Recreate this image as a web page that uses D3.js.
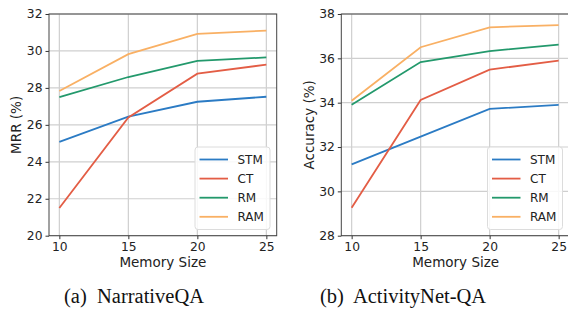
<!DOCTYPE html>
<html lang="en">
<head>
    <meta charset="UTF-8">
    <script src="https://d3js.org/d3.v7.min.js"></script>
    <title>Memory Size</title>
    <style>
        body { margin: 0; background: #fff; }
        svg { display: block; }
    </style>
</head>
<body>
    <div id="chart"></div>
    <script>
        // Data
        const memorySizes = [10, 15, 20, 25];
        const seriesNames = ["STM", "CT", "RM", "RAM"];
        const seriesColors = ["#2b7bc4", "#e35d45", "#23996c", "#f9b064"];

        const narrativeSTM = [25.08, 26.44, 27.25, 27.52];
        const narrativeCT = [21.5, 26.4, 28.77, 29.26];
        const narrativeRM = [27.5, 28.59, 29.46, 29.65];
        const narrativeRAM = [27.83, 29.83, 30.92, 31.1];

        const activitySTM = [31.22, 32.47, 33.72, 33.9];
        const activityCT = [29.26, 34.12, 35.49, 35.9];
        const activityRM = [33.91, 35.83, 36.33, 36.62];
        const activityRAM = [34.09, 36.5, 37.4, 37.5];

        const narrativeTicks = [20, 22, 24, 26, 28, 30, 32];
        const activityTicks = [28, 30, 32, 34, 36, 38];

        const width = 568;
        const height = 318;

        var svg = d3.select("#chart")
            .append("svg")
            .attr("width", width)
            .attr("height", height);

        const panels = [
            {
                left: 49, right: 276.7, ylabel: "MRR (%)", ylabelX: 16,
                domain: [20, 32], ticks: narrativeTicks,
                series: [narrativeSTM, narrativeCT, narrativeRM, narrativeRAM],
                legendX: 195, caption: "(a)\u00a0 NarrativeQA", captionX: 134
            },
            {
                left: 341.3, right: 569, ylabel: "Accuracy (%)", ylabelX: 309,
                domain: [28, 38], ticks: activityTicks,
                series: [activitySTM, activityCT, activityRM, activityRAM],
                legendX: 487.5, caption: "(b)\u00a0 ActivityNet-QA", captionX: 403
            }
        ];

        const plotTop = 14, plotBottom = 235.7;

        panels.forEach(p => {
            const g = svg.append("g");

            const xScale = d3.scaleLinear()
                .domain([9.25, 25.75])
                .range([p.left, p.right]);
            const yScale = d3.scaleLinear()
                .domain(p.domain)
                .range([plotBottom, plotTop]);

            // grid
            g.append("g").selectAll("line")
                .data(memorySizes)
                .join("line")
                .attr("x1", d => xScale(d)).attr("x2", d => xScale(d))
                .attr("y1", plotTop).attr("y2", plotBottom)
                .attr("stroke", "#cfcfcf").attr("stroke-width", 1.2);
            g.append("g").selectAll("line")
                .data(p.ticks)
                .join("line")
                .attr("x1", p.left).attr("x2", p.right)
                .attr("y1", d => yScale(d)).attr("y2", d => yScale(d))
                .attr("stroke", "#cfcfcf").attr("stroke-width", 1.2);

            // lines
            const line = d3.line()
                .x((d, i) => xScale(memorySizes[i]))
                .y(d => yScale(d));

            p.series.forEach((s, i) => {
                g.append("path")
                    .datum(s)
                    .attr("fill", "none")
                    .attr("stroke", seriesColors[i])
                    .attr("stroke-width", 1.8)
                    .attr("d", line);
            });

            // axes
            const xAxis = d3.axisBottom(xScale).tickValues(memorySizes)
                .tickSize(3.5).tickPadding(3.5);
            const yAxis = d3.axisLeft(yScale).tickValues(p.ticks)
                .tickSize(3.5).tickPadding(3);

            const gx = g.append("g")
                .attr("transform", `translate(0, ${plotBottom})`)
                .call(xAxis);
            const gy = g.append("g")
                .attr("transform", `translate(${p.left}, 0)`)
                .call(yAxis);
            [gx, gy].forEach(a => {
                a.select(".domain").remove();
                a.selectAll("line").attr("stroke", "#333");
                a.selectAll("text")
                    .attr("font-family", "DejaVu Sans")
                    .attr("font-size", 12.3)
                    .attr("fill", "#222");
            });

            // spines
            g.append("rect")
                .attr("x", p.left).attr("y", plotTop)
                .attr("width", p.right - p.left).attr("height", plotBottom - plotTop)
                .attr("fill", "none").attr("stroke", "#444").attr("stroke-width", 1);

            // legend
            const lg = g.append("g").attr("transform", `translate(${p.legendX}, 147)`);
            lg.append("rect")
                .attr("width", 75).attr("height", 82.5)
                .attr("rx", 3)
                .attr("fill", "#fff").attr("fill-opacity", 0.85)
                .attr("stroke", "#dcdcdc").attr("stroke-width", 1);
            seriesNames.forEach((name, i) => {
                const y = 12.5 + i * 19.1;
                lg.append("line")
                    .attr("x1", 4.5).attr("x2", 33)
                    .attr("y1", y).attr("y2", y)
                    .attr("stroke", seriesColors[i]).attr("stroke-width", 1.8);
                lg.append("text")
                    .attr("x", 42.5).attr("y", y + 4.4)
                    .attr("font-family", "DejaVu Sans")
                    .attr("font-size", 12)
                    .attr("fill", "#222")
                    .text(name);
            });

            // axis labels
            g.append("text")
                .attr("x", (p.left + Math.min(p.right, 566)) / 2 + (p.right > 566 ? 2 : 0))
                .attr("y", 267)
                .attr("text-anchor", "middle")
                .attr("font-family", "DejaVu Sans")
                .attr("font-size", 13.5)
                .attr("fill", "#222")
                .text("Memory Size");

            g.append("text")
                .attr("transform", "rotate(-90)")
                .attr("x", -(plotTop + plotBottom) / 2)
                .attr("y", p.ylabelX + 5)
                .attr("text-anchor", "middle")
                .attr("font-family", "DejaVu Sans")
                .attr("font-size", 13.5)
                .attr("fill", "#222")
                .text(p.ylabel);

            // caption
            g.append("text")
                .attr("x", p.captionX)
                .attr("y", 303)
                .attr("text-anchor", "middle")
                .attr("font-family", "Liberation Serif")
                .attr("font-size", 20.5)
                .attr("fill", "#111")
                .text(p.caption);
        });
    </script>
</body>
</html>
